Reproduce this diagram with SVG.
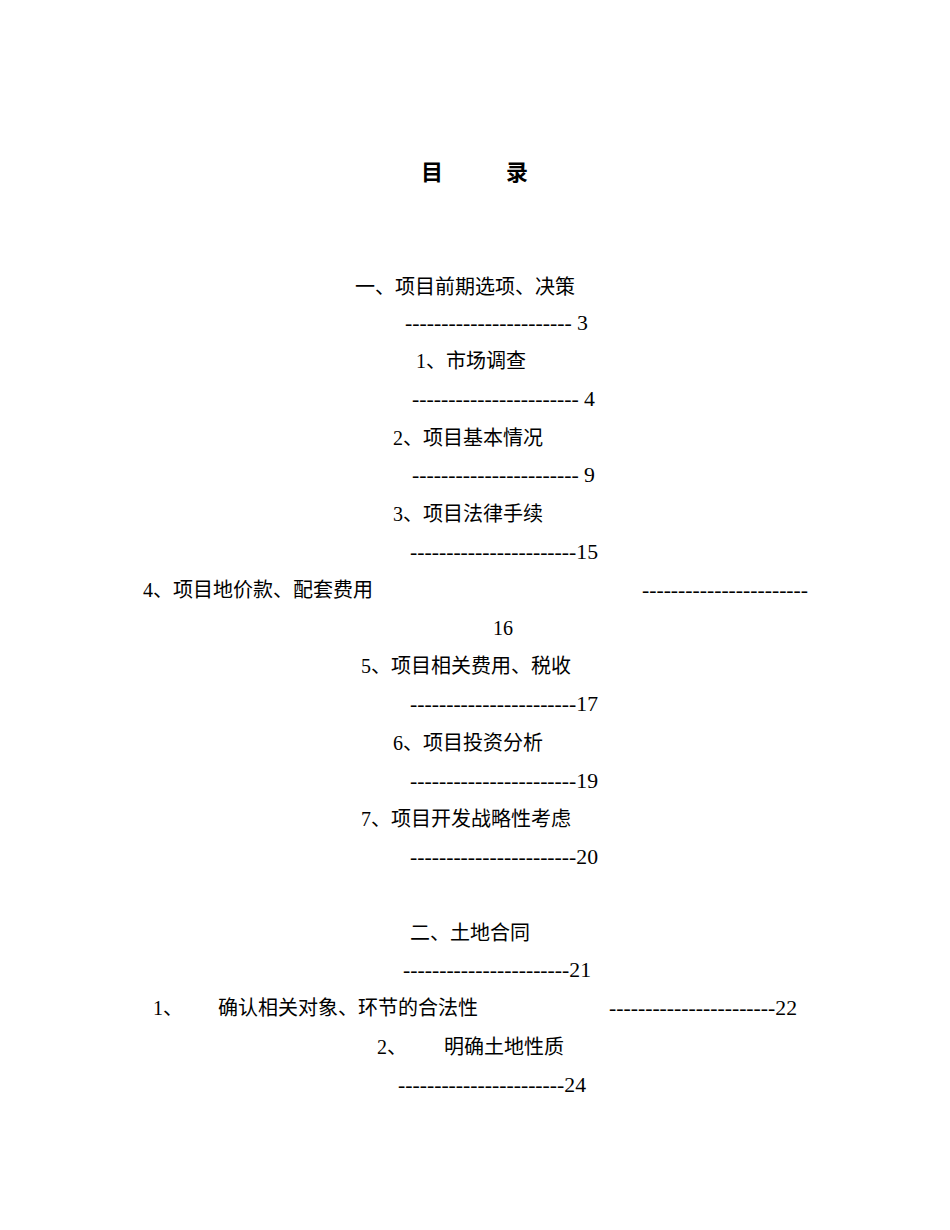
<svg xmlns="http://www.w3.org/2000/svg" width="950" height="1230" viewBox="0 0 950 1230">
<style>
text{font-family:"Liberation Serif","Noto Sans CJK SC",serif;font-size:20px;fill:#000}
.t{font-size:22px;font-weight:bold}
</style>
<rect width="950" height="1230" fill="#fff"/>
<g id="title"><text class="t" x="421" y="180">目</text><text class="t" x="506" y="180">录</text></g>
<g id="toc">
<text x="355" y="294">一、项目前期选项、决策</text>
<text x="405" y="330" textLength="183" lengthAdjust="spacingAndGlyphs">----------------------- 3</text>
<text x="416" y="368">1、市场调查</text>
<text x="412" y="406" textLength="183" lengthAdjust="spacingAndGlyphs">----------------------- 4</text>
<text x="393" y="445">2、项目基本情况</text>
<text x="412" y="482" textLength="183" lengthAdjust="spacingAndGlyphs">----------------------- 9</text>
<text x="393" y="521">3、项目法律手续</text>
<text x="410" y="559" textLength="188" lengthAdjust="spacingAndGlyphs">-----------------------15</text>
<text x="143" y="597">4、项目地价款、配套费用</text>
<text x="642" y="597" textLength="166" lengthAdjust="spacingAndGlyphs">-----------------------</text>
<text x="503" y="635" text-anchor="middle">16</text>
<text x="361" y="673">5、项目相关费用、税收</text>
<text x="410" y="711" textLength="188" lengthAdjust="spacingAndGlyphs">-----------------------17</text>
<text x="393" y="750">6、项目投资分析</text>
<text x="410" y="788" textLength="188" lengthAdjust="spacingAndGlyphs">-----------------------19</text>
<text x="361" y="826">7、项目开发战略性考虑</text>
<text x="410" y="864" textLength="188" lengthAdjust="spacingAndGlyphs">-----------------------20</text>
<text x="410" y="940">二、土地合同</text>
<text x="403" y="977" textLength="188" lengthAdjust="spacingAndGlyphs">-----------------------21</text>
<text x="153" y="1015">1、</text>
<text x="218" y="1015">确认相关对象、环节的合法性</text>
<text x="609" y="1015" textLength="188" lengthAdjust="spacingAndGlyphs">-----------------------22</text>
<text x="377" y="1054">2、</text>
<text x="444" y="1054">明确土地性质</text>
<text x="398" y="1092" textLength="188" lengthAdjust="spacingAndGlyphs">-----------------------24</text>
</g>
</svg>
